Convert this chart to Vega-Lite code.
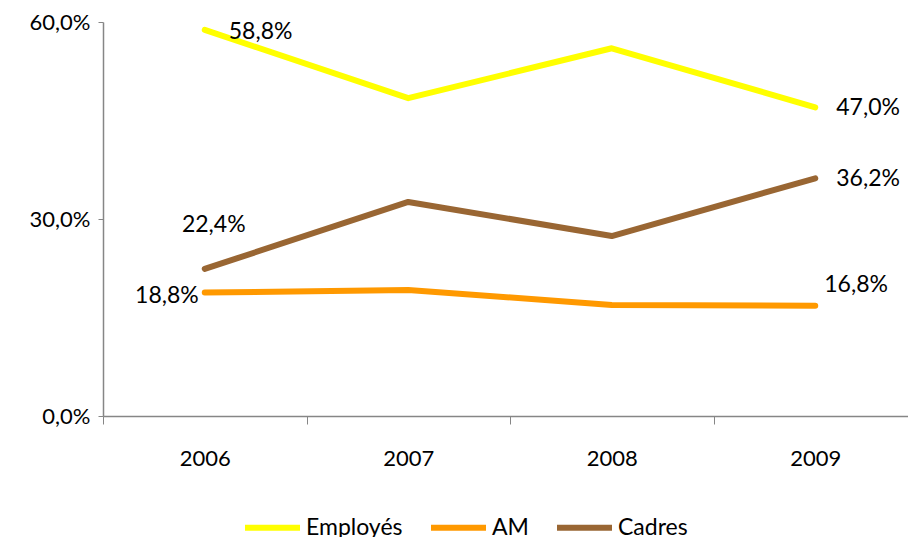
{
  "$schema": "https://vega.github.io/schema/vega-lite/v6.json",
  "width": 814,
  "height": 394,
  "autosize": {"type": "none"},
  "padding": {"left": 103, "top": 22, "right": 0, "bottom": 121},
  "config": {
    "locale": {"number": {"decimal": ",", "thousands": " ", "grouping": [3], "currency": ["", " €"]}},
    "font": "Lato",
    "view": {"stroke": null},
    "axis": {"labelFont": "Lato", "labelFontSize": 22, "labelColor": "#000000", "domainColor": "#868686", "tickColor": "#868686", "grid": false, "title": null}
  },
  "data": {"values": [
    {"annee": "2006", "serie": "Employés", "valeur": 0.588},
    {"annee": "2007", "serie": "Employés", "valeur": 0.484},
    {"annee": "2008", "serie": "Employés", "valeur": 0.560},
    {"annee": "2009", "serie": "Employés", "valeur": 0.470},
    {"annee": "2006", "serie": "AM", "valeur": 0.188},
    {"annee": "2007", "serie": "AM", "valeur": 0.192},
    {"annee": "2008", "serie": "AM", "valeur": 0.169},
    {"annee": "2009", "serie": "AM", "valeur": 0.168},
    {"annee": "2006", "serie": "Cadres", "valeur": 0.224},
    {"annee": "2007", "serie": "Cadres", "valeur": 0.326},
    {"annee": "2008", "serie": "Cadres", "valeur": 0.274},
    {"annee": "2009", "serie": "Cadres", "valeur": 0.362}
  ]},
  "encoding": {
    "x": {"field": "annee", "type": "ordinal", "scale": {"type": "band", "paddingInner": 0, "paddingOuter": 0},
      "axis": {"labelAngle": 0, "tickBand": "extent", "tickSize": 8, "labelPadding": 24, "domainWidth": 1.5}},
    "y": {"field": "valeur", "type": "quantitative", "scale": {"domain": [0, 0.6], "nice": false},
      "axis": {"values": [0, 0.3, 0.6], "format": ".1%", "tickSize": 5, "labelPadding": 8, "domainWidth": 1.5}}
  },
  "layer": [
    {
      "mark": {"type": "line", "strokeWidth": 6, "strokeCap": "round", "strokeJoin": "round"},
      "encoding": {
        "color": {"field": "serie", "type": "nominal",
          "scale": {"domain": ["Employés", "AM", "Cadres"], "range": ["#FFFF00", "#FF9900", "#996633"]},
          "legend": {"title": null, "orient": "none", "legendX": 139, "legendY": 475, "direction": "horizontal",
            "symbolType": "stroke", "symbolSize": 3025, "symbolStrokeWidth": 6, "labelFontSize": 23, "labelFont": "Lato",
            "labelColor": "#000000", "columnPadding": 16, "labelOffset": 3}}
      }
    },
    {
      "transform": [{"filter": "(datum.serie == 'Employés' && datum.annee == '2006')"}],
      "mark": {"type": "text", "align": "left", "baseline": "middle", "dx": 24, "dy": 2, "fontSize": 23, "font": "Lato"},
      "encoding": {"text": {"field": "valeur", "type": "quantitative", "format": ".1%"}}
    },
    {
      "transform": [{"filter": "datum.annee == '2009' && datum.serie != 'AM'"}],
      "mark": {"type": "text", "align": "left", "baseline": "middle", "dx": 21, "dy": 1, "fontSize": 23, "font": "Lato"},
      "encoding": {"text": {"field": "valeur", "type": "quantitative", "format": ".1%"}}
    },
    {
      "transform": [{"filter": "datum.annee == '2009' && datum.serie == 'AM'"}],
      "mark": {"type": "text", "align": "left", "baseline": "middle", "dx": 9, "dy": -21, "fontSize": 23, "font": "Lato"},
      "encoding": {"text": {"field": "valeur", "type": "quantitative", "format": ".1%"}}
    },
    {
      "transform": [{"filter": "datum.annee == '2006' && datum.serie == 'Cadres'"}],
      "mark": {"type": "text", "align": "center", "baseline": "middle", "dx": 9, "dy": -44, "fontSize": 23, "font": "Lato"},
      "encoding": {"text": {"field": "valeur", "type": "quantitative", "format": ".1%"}}
    },
    {
      "transform": [{"filter": "datum.annee == '2006' && datum.serie == 'AM'"}],
      "mark": {"type": "text", "align": "right", "baseline": "middle", "dx": -6, "dy": 3, "fontSize": 23, "font": "Lato"},
      "encoding": {"text": {"field": "valeur", "type": "quantitative", "format": ".1%"}}
    }
  ]
}
